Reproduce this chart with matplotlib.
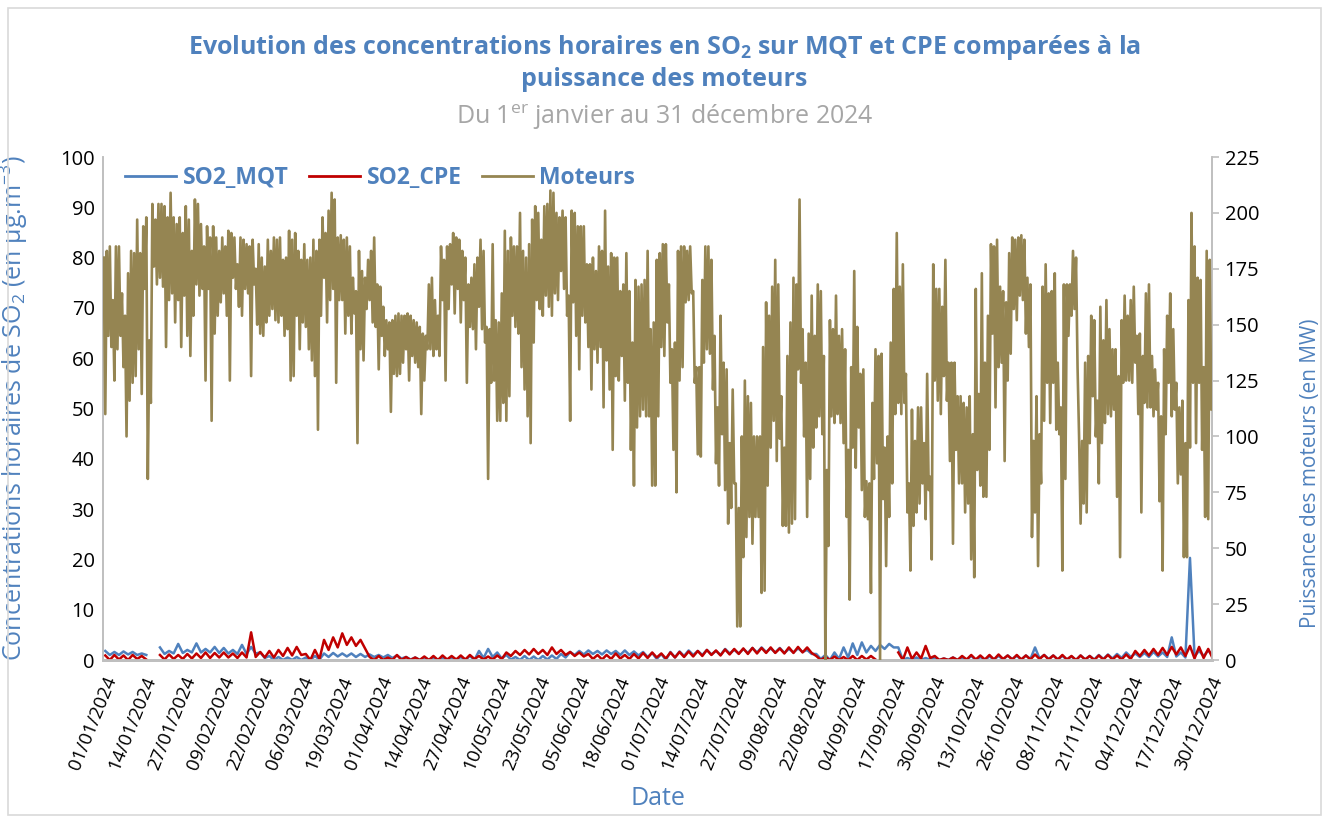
import numpy as np
import pandas as pd
import matplotlib
matplotlib.use("Agg")
import matplotlib.pyplot as plt
from matplotlib.lines import Line2D
from matplotlib.patches import Rectangle

# puissance des moteurs (MW) : pour chaque jour, pic puis creux
mot_jan = [180, 110, 183, 145, 185, 140, 161, 125, 185, 139, 185, 145, 164, 131, 154, 100,
           173, 116, 183, 124, 182, 127, 197, 139, 182, 119, 194, 166, 198, 81, 143, 115,
           204, 176, 197, 168, 204, 171, 204, 167, 203, 140, 198, 161, 209, 164, 198, 151,
           195, 161, 198, 140, 191, 163, 203, 145, 197, 136, 183, 154, 206, 168]
mot_feb = [204, 163, 195, 166, 185, 125, 194, 166, 189, 107, 194, 146, 189, 154, 183, 160,
           189, 164, 185, 154, 192, 125, 191, 171, 189, 166, 177, 158, 189, 154, 188, 166,
           186, 164, 185, 127, 188, 168, 175, 150, 186, 146, 180, 145, 176, 151, 188, 154,
           183, 157, 189, 152, 188, 151, 189, 154, 179, 145]
mot_mar = [180, 148, 192, 125, 188, 127, 191, 154, 183, 139, 179, 151, 186, 149, 179, 139,
           180, 134, 188, 127, 183, 103, 188, 154, 198, 171, 191, 151, 201, 161, 209, 166,
           206, 124, 189, 161, 190, 161, 188, 146, 189, 154, 185, 146, 171, 155, 165, 97,
           183, 139, 174, 134, 171, 157, 179, 161, 183, 151, 189, 149, 168, 130]
mot_apr = [167, 145, 158, 136, 152, 139, 151, 111, 152, 128, 154, 127, 155, 128, 154, 133,
           154, 139, 155, 125, 154, 136, 152, 133, 151, 131, 149, 110, 146, 125, 145, 139,
           168, 139, 171, 136, 161, 139, 154, 136, 185, 161, 179, 125, 185, 157, 186, 168,
           191, 155, 189, 166, 188, 151, 183, 161, 180, 124, 168, 149]
mot_may = [171, 148, 177, 139, 180, 158, 188, 148, 183, 142, 149, 81, 148, 124, 186, 125,
           152, 107, 151, 107, 164, 115, 192, 107, 183, 118, 189, 154, 185, 149, 185, 146,
           200, 131, 183, 121, 180, 109, 186, 97, 197, 142, 203, 161, 200, 157, 188, 154,
           203, 163, 204, 158, 210, 154, 209, 164, 200, 161, 198, 174, 201, 166]
mot_jun = [198, 154, 163, 107, 201, 160, 200, 145, 194, 130, 194, 154, 194, 151, 177, 140,
           177, 121, 180, 139, 174, 133, 185, 140, 183, 113, 201, 134, 176, 121, 182, 94,
           180, 127, 180, 125, 165, 136, 168, 116, 182, 124, 165, 94, 142, 78, 170, 104,
           167, 109, 168, 112, 170, 109, 183, 109, 148, 78, 151, 78]
mot_jul = [179, 109, 182, 140, 186, 136, 186, 151, 168, 124, 139, 94, 142, 75, 183, 125,
           185, 131, 185, 160, 183, 161, 185, 164, 165, 124, 131, 92, 131, 91, 170, 133,
           185, 139, 185, 137, 179, 121, 145, 88, 113, 78, 154, 101, 133, 76, 130, 61,
           97, 68, 121, 79, 79, 15, 68, 15, 100, 46, 125, 55, 118, 64]
mot_aug = [115, 52, 100, 64, 100, 64, 100, 30, 140, 31, 160, 78, 154, 95, 167, 107,
           179, 89, 168, 99, 118, 60, 95, 60, 136, 57, 151, 61, 171, 63, 168, 130,
           206, 124, 148, 100, 133, 64, 146, 81, 163, 95, 145, 104, 168, 109, 165, 101,
           136, 0, 85, 51, 152, 109, 148, 106, 163, 110, 145, 106, 148, 97]
mot_sep = [139, 64, 94, 27, 131, 95, 174, 86, 149, 104, 128, 76, 130, 64, 80, 63,
           79, 30, 115, 81, 139, 88, 136, 0, 137, 72, 95, 42, 100, 64, 142, 79,
           166, 110, 191, 115, 167, 110, 177, 115, 128, 66, 79, 40, 112, 60, 98, 66,
           113, 70, 113, 79, 97, 63, 128, 76, 82, 45, 177, 125]
mot_oct = [166, 116, 166, 110, 158, 127, 179, 116, 133, 89, 133, 52, 133, 94, 118, 79,
           118, 79, 115, 66, 113, 70, 118, 45, 101, 37, 166, 85, 119, 78, 173, 73,
           133, 73, 154, 94, 186, 146, 185, 113, 188, 131, 167, 133, 165, 89, 160, 125,
           182, 137, 189, 157, 188, 152, 189, 163, 190, 161, 188, 146, 171, 140]
mot_nov = [168, 55, 98, 66, 118, 42, 101, 79, 167, 107, 177, 124, 164, 106, 165, 124,
           173, 103, 133, 101, 113, 40, 168, 81, 168, 145, 168, 154, 183, 157, 180, 131,
           100, 61, 98, 70, 133, 66, 136, 97, 154, 118, 152, 100, 116, 79, 158, 97,
           143, 106, 161, 110, 148, 109, 139, 112, 139, 73, 127, 46]
mot_dec = [152, 124, 163, 125, 154, 125, 161, 124, 167, 133, 145, 110, 146, 66, 136, 115,
           164, 113, 168, 113, 136, 109, 130, 112, 124, 71, 109, 40, 139, 101, 154, 124,
           164, 109, 148, 112, 124, 79, 113, 83, 116, 46, 97, 46, 161, 95, 200, 124,
           185, 97, 171, 124, 170, 94, 131, 64, 183, 63, 179, 112, 136, 109]

# SO2 (µg/m3) par blocs de 3 jours : max puis min, nan = pas de mesure
nan = np.nan
mqt_hi = [1.8, 1.6, 1.7, 1.6, 1.3, nan, 2.5, 1.8, 3.2, 2.0, 3.3, 2.2, 2.6, 2.4, 2.0, 3.0,
          2.6, 1.5, 0.8, 0.6, 0.5, 0.6, 0.5, 0.8, 1.3, 1.4, 1.3, 1.3, 1.2, 1.1, 1.0, 1.0,
          0.9, 0.6, 0.5, 0.5, 0.4, 0.5, 0.5, 0.6, 0.8, 1.8, 2.2, 1.5, 1.0, 0.6, 0.8, 0.7,
          0.8, 0.9, 1.2, 1.6, 1.8, 1.9, 1.8, 1.9, 1.8, 1.9, 1.7, 1.6, 1.4, 1.2, 1.6, 1.7,
          1.9, 1.8, 2.0, 1.8, 2.2, 2.0, 2.2, 2.4, 2.5, 2.3, 2.4, 2.2, 2.3, 2.0, 1.2, 1.0,
          1.5, 2.5, 3.3, 3.5, 2.8, 3.0, 3.2, 2.5, 0.4, 0.5, 0.4, 0.5, 0.3, 0.5, 0.4, 0.8,
          0.6, 0.7, 0.8, 0.9, 0.8, 0.9, 2.5, 1.0, 0.9, 0.8, 0.7, 0.9, 0.8, 1.0, 1.1, 1.2,
          1.5, 1.3, 1.4, 1.6, 1.5, 4.5, 1.5, 20.3, 1.8, 1.9]
mqt_lo = [1.0, 1.0, 1.1, 1.0, 1.0, nan, 1.2, 1.3, 1.4, 1.5, 1.5, 1.5, 1.4, 1.3, 1.2, 1.2,
          1.3, 0.4, 0.0, 0.0, 0.0, 0.0, 0.0, 0.1, 0.6, 0.7, 0.7, 0.6, 0.6, 0.6, 0.5, 0.4,
          0.3, 0.1, 0.0, 0.0, 0.0, 0.0, 0.0, 0.0, 0.0, 0.4, 0.6, 0.3, 0.1, 0.0, 0.0, 0.0,
          0.1, 0.2, 0.5, 1.0, 1.1, 1.2, 1.1, 1.2, 1.0, 1.0, 0.9, 0.6, 0.2, 0.0, 0.5, 0.8,
          1.0, 1.0, 1.1, 1.0, 1.3, 1.3, 1.4, 1.5, 1.6, 1.5, 1.4, 1.5, 1.6, 1.2, 0.2, 0.0,
          0.2, 0.5, 1.0, 1.5, 1.8, 2.2, 2.5, 0.0, 0.0, 0.0, 0.0, 0.0, 0.0, 0.0, 0.0, 0.0,
          0.0, 0.1, 0.1, 0.2, 0.1, 0.2, 0.3, 0.2, 0.1, 0.1, 0.0, 0.1, 0.1, 0.2, 0.3, 0.4,
          0.6, 0.6, 0.6, 0.7, 0.6, 0.7, 0.5, 0.8, 0.8, 0.9]
cpe_hi = [0.9, 1.0, 0.9, 1.0, 0.8, nan, 1.0, 1.1, 1.0, 1.2, 1.3, 1.5, 1.4, 1.5, 1.3, 1.5,
          5.5, 1.6, 1.8, 2.0, 2.4, 2.6, 1.2, 2.0, 4.0, 4.5, 5.3, 4.5, 4.0, 0.6, 0.8, 0.5,
          1.0, 0.6, 0.5, 0.7, 0.8, 0.9, 0.8, 0.9, 1.0, 0.8, 0.7, 0.9, 1.5, 1.8, 2.0, 2.2,
          2.0, 2.5, 2.0, 1.6, 1.5, 1.2, 1.0, 1.0, 1.3, 1.0, 1.2, 1.4, 1.5, 1.3, 1.5, 1.6,
          1.7, 1.8, 2.0, 1.9, 2.1, 2.2, 2.3, 2.4, 2.4, 2.5, 2.3, 2.5, 2.6, 2.5, 0.8, 0.6,
          0.7, 0.6, 0.8, 0.8, 0.8, nan, nan, 1.5, 2.5, 1.5, 2.8, 0.8, 0.3, 0.5, 0.8, 1.0,
          0.9, 1.0, 1.1, 0.9, 1.0, 0.9, 1.1, 1.0, 0.9, 1.0, 0.8, 0.9, 0.8, 0.9, 1.0, 0.9,
          1.1, 1.8, 2.0, 2.2, 2.4, 2.6, 2.5, 2.8, 2.6, 2.2]
cpe_lo = [0.0, 0.1, 0.0, 0.2, 0.1, nan, 0.1, 0.2, 0.2, 0.3, 0.4, 0.4, 0.5, 0.5, 0.4, 0.5,
          0.6, 0.5, 0.5, 0.8, 0.9, 1.0, 0.0, 0.2, 2.0, 2.5, 3.0, 2.8, 2.3, 0.0, 0.0, 0.0,
          0.0, 0.0, 0.0, 0.0, 0.0, 0.1, 0.1, 0.1, 0.2, 0.1, 0.1, 0.2, 0.8, 1.0, 1.1, 1.2,
          1.0, 1.2, 1.0, 0.8, 0.7, 0.2, 0.1, 0.2, 0.3, 0.2, 0.3, 0.4, 0.5, 0.3, 0.5, 0.6,
          0.7, 0.8, 1.0, 0.9, 1.1, 1.2, 1.2, 1.3, 1.4, 1.4, 1.3, 1.4, 1.5, 1.4, 0.0, 0.0,
          0.0, 0.0, 0.0, 0.1, 0.1, nan, nan, 0.0, 0.2, 0.3, 0.4, 0.0, 0.0, 0.0, 0.1, 0.1,
          0.1, 0.1, 0.2, 0.1, 0.1, 0.1, 0.2, 0.1, 0.1, 0.1, 0.0, 0.1, 0.0, 0.1, 0.1, 0.1,
          0.2, 0.8, 0.9, 1.0, 1.0, 1.1, 0.8, 0.3, 0.4, 0.3]

tick_dates = pd.date_range("2024-01-01", "2024-12-31", freq="13D")
tick_labels = tick_dates.strftime("%d/%m/%Y").tolist()

BLUE = "#4F81BD"
RED = "#C00000"
OLIVE = "#958552"
GREY = "#BFBFBF"

plt.rcParams["font.family"] = ["Open Sans", "DejaVu Sans"]
plt.rcParams["mathtext.fontset"] = "custom"
plt.rcParams["mathtext.rm"] = "Open Sans"
plt.rcParams["mathtext.bf"] = "Open Sans:bold"


def zigzag(hi, lo, step, first, second):
    n = len(hi)
    x = np.repeat(np.arange(n) * step, 2) + np.tile([first, second], n)
    y = np.column_stack([hi, lo]).ravel()
    return x, y


fig = plt.figure(figsize=(13.29, 8.17), dpi=100)
fig.patches.append(Rectangle((8 / 1329, 2 / 817), 1313 / 1329, 807 / 817, transform=fig.transFigure,
                             fill=False, edgecolor="#D9D9D9", linewidth=1.2))

ax = fig.add_axes([103 / 1329, 1 - 660 / 817, 1109 / 1329, 503 / 817])
ax2 = ax.twinx()

mot = np.array(mot_jan + mot_feb + mot_mar + mot_apr + mot_may + mot_jun +
               mot_jul + mot_aug + mot_sep + mot_oct + mot_nov + mot_dec, dtype=float)
xm = np.repeat(np.arange(len(mot) // 2), 2) + np.tile([0.25, 0.75], len(mot) // 2)

xq, yq = zigzag(mqt_hi, mqt_lo, 3, 0.75, 2.25)
xc, yc = zigzag(cpe_hi, cpe_lo, 3, 0.75, 2.25)

ax.plot(xq, yq, color=BLUE, lw=1.8, zorder=3)
ax.plot(xc, yc, color=RED, lw=1.8, zorder=4)
ax2.plot(xm, mot, color=OLIVE, lw=1.9, zorder=3)

ax.set_xlim(0, 365)
ax.set_ylim(0, 100)
ax2.set_ylim(0, 225)
ax.set_yticks(np.arange(0, 101, 10))
ax2.set_yticks(np.arange(0, 226, 25))

tick_pos = [(d - tick_dates[0]).days for d in tick_dates]
ax.set_xticks(tick_pos)
ax.set_xticklabels(tick_labels, rotation=68, ha="right", va="top", rotation_mode="anchor")
ax.tick_params(axis="x", length=0, pad=10, labelsize=13.5)
ax.tick_params(axis="y", length=0, pad=6, labelsize=14.5)
ax2.tick_params(axis="y", length=5, width=1.2, color=GREY, pad=4, labelsize=14.5)

for a in (ax, ax2):
    a.spines["top"].set_visible(False)
    for s in ("left", "right"):
        a.spines[s].set_color(GREY)
        a.spines[s].set_linewidth(1.2)
    a.spines["bottom"].set_color(GREY)
    a.spines["bottom"].set_linewidth(2)

ax.set_ylabel("Concentrations horaires de SO$_2$ (en µg.m$^{-3}$)", color=BLUE, fontsize=18)
ax.yaxis.set_label_coords(-0.066, 0.5)
ax2.set_ylabel("Puissance des moteurs (en MW)", color=BLUE, fontsize=15)
ax2.yaxis.set_label_coords(1.079, 0.372)
ax.set_xlabel("Date", color=BLUE, fontsize=18)
ax.xaxis.set_label_coords(0.5, -0.25)

handles = [Line2D([], [], color=BLUE, lw=2), Line2D([], [], color=RED, lw=2),
           Line2D([], [], color=OLIVE, lw=2)]
ax2.legend(handles, ["SO2_MQT", "SO2_CPE", "Moteurs"], loc="upper left",
           bbox_to_anchor=(0.012, 1.0), ncol=3, frameon=False, handlelength=2.2,
           columnspacing=0.9, handletextpad=0.3, labelcolor=BLUE,
           prop={"weight": "bold", "size": 16.5}, borderaxespad=0)

fig.text(0.5, 1 - 47 / 817, "Evolution des concentrations horaires en SO$_\\mathbf{2}$ sur MQT et CPE comparées à la",
         ha="center", va="center", color=BLUE, fontsize=18, fontweight="bold")
fig.text(0.5, 1 - 80 / 817, "puissance des moteurs", ha="center", va="center",
         color=BLUE, fontsize=18, fontweight="bold")
fig.text(0.5, 1 - 117 / 817, "Du 1$^{\\mathrm{er}}$ janvier au 31 décembre 2024", ha="center",
         va="center", color="#A6A6A6", fontsize=18)

fig.savefig("out.png", dpi=100)
